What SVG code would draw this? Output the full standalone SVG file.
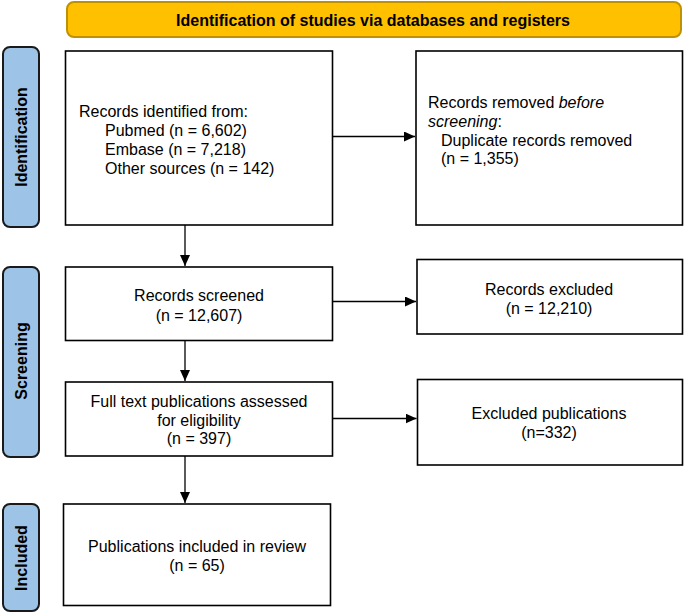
<svg xmlns="http://www.w3.org/2000/svg" width="685" height="613" viewBox="0 0 685 613">
<defs>
<marker id="ah" markerUnits="userSpaceOnUse" markerWidth="12" markerHeight="10" refX="11" refY="5" orient="auto">
<path d="M0,0 L11,5 L0,10 z" fill="#000"/>
</marker>
<style>
.box{fill:#fff;stroke:#000;stroke-width:1.6}
.side{fill:#9DC3E6;stroke:#1a1a1a;stroke-width:2}
.t{font-family:"Liberation Sans",Arial,sans-serif;font-size:16px;fill:#000}
.c{text-anchor:middle}
.b{font-weight:bold}
.conn line{stroke:#000;stroke-width:1.3;marker-end:url(#ah)}
</style>
</defs>
<rect width="685" height="613" fill="#fff"/>
<g id="header">
<rect x="67" y="2" width="614" height="35" rx="7" fill="#FFC000" stroke="#BF9000" stroke-width="2"/>
<text class="t c b" x="373" y="26">Identification of studies via databases and registers</text>
</g>
<g id="lbl-identification">
<rect class="side" x="3" y="47" width="36" height="180" rx="7"/>
<text class="t c b" x="27" y="137" transform="rotate(-90 27 137)">Identification</text>
</g>
<g id="lbl-screening">
<rect class="side" x="3" y="267" width="36" height="190" rx="7"/>
<text class="t c b" x="27" y="361" transform="rotate(-90 27 361)">Screening</text>
</g>
<g id="lbl-included">
<rect class="side" x="3" y="504" width="36" height="107" rx="7"/>
<text class="t c b" x="27" y="558" transform="rotate(-90 27 558)">Included</text>
</g>
<g id="identified">
<rect class="box" x="65.5" y="51" width="267" height="174"/>
<text class="t" x="79" y="117">Records identified from:</text>
<text class="t" x="105" y="136">Pubmed (n = 6,602)</text>
<text class="t" x="105" y="155">Embase (n = 7,218)</text>
<text class="t" x="105" y="174">Other sources (n = 142)</text>
</g>
<g id="removed">
<rect class="box" x="416" y="51" width="266.5" height="174"/>
<text class="t" x="428" y="108">Records removed <tspan font-style="italic">before</tspan></text>
<text class="t" x="428" y="127"><tspan font-style="italic">screening</tspan>:</text>
<text class="t" x="441" y="146">Duplicate records removed</text>
<text class="t" x="441" y="164">(n = 1,355)</text>
</g>
<g id="screened">
<rect class="box" x="65.5" y="267" width="267" height="73.5"/>
<text class="t c" x="199" y="301">Records screened</text>
<text class="t c" x="199" y="320.5">(n = 12,607)</text>
</g>
<g id="excluded">
<rect class="box" x="417" y="259.5" width="265.5" height="74.5"/>
<text class="t c" x="549" y="294.5">Records excluded</text>
<text class="t c" x="549" y="314">(n = 12,210)</text>
</g>
<g id="fulltext">
<rect class="box" x="65.5" y="382" width="267" height="74"/>
<text class="t c" x="199" y="407">Full text publications assessed</text>
<text class="t c" x="199" y="425.5">for eligibility</text>
<text class="t c" x="199" y="444">(n = 397)</text>
</g>
<g id="excluded-pubs">
<rect class="box" x="417.5" y="379.5" width="265" height="85.5"/>
<text class="t c" x="549" y="419">Excluded publications</text>
<text class="t c" x="549" y="438">(n=332)</text>
</g>
<g id="included">
<rect class="box" x="63.5" y="504" width="267" height="101.5"/>
<text class="t c" x="197" y="552">Publications included in review</text>
<text class="t c" x="197" y="570.5">(n = 65)</text>
</g>
<g id="connectors" class="conn">
<line x1="185" y1="225" x2="185" y2="266"/>
<line x1="332.5" y1="136.5" x2="415" y2="136.5"/>
<line x1="332.5" y1="301.5" x2="416" y2="301.5"/>
<line x1="185" y1="340.5" x2="185" y2="381"/>
<line x1="332.5" y1="418.5" x2="416.5" y2="418.5"/>
<line x1="185" y1="456" x2="185" y2="503"/>
</g>
</svg>
